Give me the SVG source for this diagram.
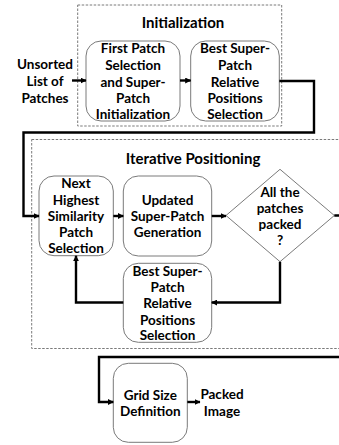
<svg xmlns="http://www.w3.org/2000/svg" width="339" height="445" viewBox="0 0 339 445">
<style>
text{font-family:Lato,"Liberation Sans",sans-serif;font-weight:bold;fill:#000;text-anchor:middle}
.t{font-size:13.5px}
.h{font-size:15px}
.node{fill:#fff;stroke:#7a7a7a;stroke-width:1}
.grp{fill:none;stroke:#7a7a7a;stroke-width:1;stroke-dasharray:2.5 1.5}
.c{fill:none;stroke:#000;stroke-width:2.4}
.ca{fill:none;stroke:#000;stroke-width:2.4;marker-end:url(#ah)}
</style>
<defs>
<marker id="ah" viewBox="0 0 6 6" refX="5.5" refY="3" markerWidth="6" markerHeight="6" markerUnits="userSpaceOnUse" orient="auto">
<path d="M0,0 L6,3 L0,6 z" fill="#000"/>
</marker>
</defs>
<rect class="grp" x="77.7" y="5" width="204" height="121"/>
<text class="h" x="183" y="28">Initialization</text>
<rect class="grp" x="31.7" y="139.5" width="320" height="209"/>
<text class="h" x="193" y="163.5">Iterative Positioning</text>

<g id="input">
<text class="t" x="45" y="69">Unsorted</text>
<text class="t" x="45" y="86">List of</text>
<text class="t" x="45" y="103">Patches</text>
</g>

<g id="first">
<rect class="node" x="86" y="41" width="94" height="80" rx="15"/>
<text class="t" x="133" y="53">First Patch</text>
<text class="t" x="133" y="70">Selection</text>
<text class="t" x="133" y="87">and Super-</text>
<text class="t" x="133" y="103">Patch</text>
<text class="t" x="133" y="119">Initialization</text>
</g>

<g id="best1">
<rect class="node" x="190.7" y="41" width="88.6" height="80" rx="15"/>
<text class="t" x="235" y="53">Best Super-</text>
<text class="t" x="235" y="70">Patch</text>
<text class="t" x="235" y="87">Relative</text>
<text class="t" x="235" y="103">Positions</text>
<text class="t" x="235" y="119">Selection</text>
</g>

<g id="next">
<rect class="node" x="39" y="176" width="74.3" height="79.7" rx="15"/>
<text class="t" x="76" y="188">Next</text>
<text class="t" x="76" y="205">Highest</text>
<text class="t" x="76" y="221">Similarity</text>
<text class="t" x="76" y="237">Patch</text>
<text class="t" x="76" y="253">Selection</text>
</g>

<g id="updated">
<rect class="node" x="123.3" y="176" width="88.4" height="80" rx="15"/>
<text class="t" x="167.5" y="205">Updated</text>
<text class="t" x="167.5" y="221">Super-Patch</text>
<text class="t" x="167.5" y="237">Generation</text>
</g>

<g id="decision">
<polygon class="node" points="280,169.3 334.3,215.5 280,261.7 226,215.5"/>
<text class="t" x="280" y="196.5">All the</text>
<text class="t" x="280" y="213">patches</text>
<text class="t" x="280" y="229">packed</text>
<text class="t" x="280" y="245">?</text>
</g>

<g id="best2">
<rect class="node" x="123.3" y="263.3" width="88.4" height="79" rx="15"/>
<text class="t" x="167.5" y="276">Best Super-</text>
<text class="t" x="167.5" y="291.5">Patch</text>
<text class="t" x="167.5" y="308">Relative</text>
<text class="t" x="167.5" y="325">Positions</text>
<text class="t" x="167.5" y="340">Selection</text>
</g>

<g id="grid">
<rect class="node" x="113.3" y="363.3" width="74" height="79" rx="15"/>
<text class="t" x="150.3" y="400">Grid Size</text>
<text class="t" x="150.3" y="416">Definition</text>
</g>

<g id="output">
<text class="t" x="222" y="399">Packed</text>
<text class="t" x="222" y="416">Image</text>
</g>

<g id="connectors">
<path class="ca" d="M72,80.5 H86"/>
<path class="ca" d="M180,80.5 H190.7"/>
<path class="ca" d="M279.3,81 H314 V132.5 H23.5 V216 H39"/>
<path class="ca" d="M113.3,216 H123.3"/>
<path class="ca" d="M211.7,216 H226"/>
<path class="ca" d="M334.3,215.5 H350 V357 H99 V402 H113.3"/>
<path class="ca" d="M280,261.7 V302.5 H211.7"/>
<path class="ca" d="M123.3,302.5 H76 V255.7"/>
<path class="ca" d="M187.3,402 H200"/>
</g>
</svg>
